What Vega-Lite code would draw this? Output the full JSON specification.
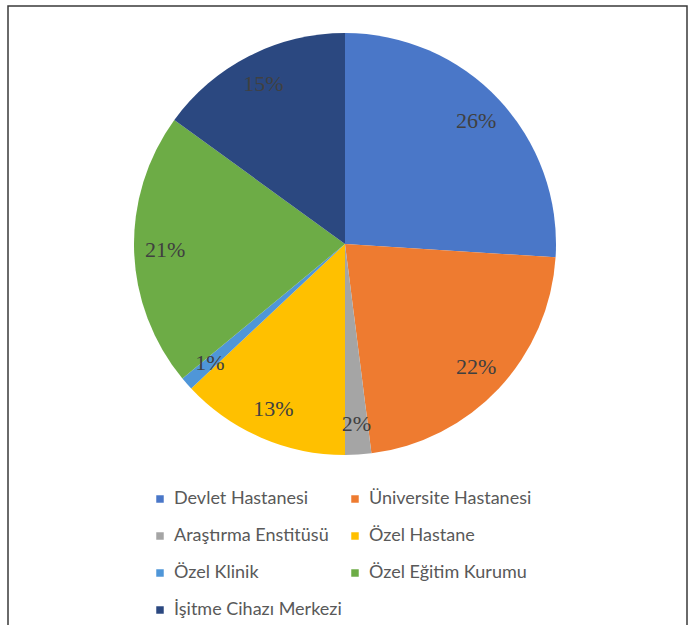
{
  "$schema": "https://vega.github.io/schema/vega-lite/v6.json",
  "width": 679,
  "height": 630,
  "autosize": {"type": "none"},
  "padding": {"left": 8, "top": 6, "right": 7, "bottom": -11},
  "background": "white",
  "view": {"stroke": "#3a3a3a", "strokeWidth": 1.5, "fill": "white"},
  "data": {
    "values": [
      {"o": 1, "kurum": "Devlet Hastanesi", "oran": 0.26},
      {"o": 2, "kurum": "Üniversite Hastanesi", "oran": 0.22},
      {"o": 3, "kurum": "Araştırma Enstitüsü", "oran": 0.02},
      {"o": 4, "kurum": "Özel Hastane", "oran": 0.13},
      {"o": 5, "kurum": "Özel Klinik", "oran": 0.01},
      {"o": 6, "kurum": "Özel Eğitim Kurumu", "oran": 0.21},
      {"o": 7, "kurum": "İşitme Cihazı Merkezi", "oran": 0.15}
    ]
  },
  "encoding": {
    "theta": {"field": "oran", "type": "quantitative", "stack": true},
    "order": {"field": "o", "type": "quantitative"}
  },
  "layer": [
    {
      "mark": {"type": "arc", "outerRadius": 211, "x": {"expr": "width/2 - 2.5"}, "y": {"expr": "238"}},
      "encoding": {
        "color": {
          "field": "kurum",
          "type": "nominal",
          "sort": null,
          "scale": {
            "domain": ["Devlet Hastanesi", "Üniversite Hastanesi", "Araştırma Enstitüsü", "Özel Hastane", "Özel Klinik", "Özel Eğitim Kurumu", "İşitme Cihazı Merkezi"],
            "range": ["#4A77C8", "#EE7B30", "#A5A5A5", "#FFC000", "#4F96D8", "#6DAC46", "#2B4880"]
          },
          "legend": {
            "title": null,
            "orient": "none",
            "direction": "horizontal",
            "legendX": 143,
            "legendY": 484,
            "columns": 2,
            "columnPadding": 4,
            "rowPadding": 19,
            "padding": 0,
            "symbolType": "square",
            "symbolSize": 56,
            "symbolStrokeWidth": 0,
            "labelFont": "Lato",
            "labelFontSize": 18,
            "labelColor": "#595959",
            "labelOffset": 5,
            "labelLimit": 300
          }
        }
      }
    },
    {
      "mark": {"type": "text", "radius": 180, "x": {"expr": "width/2 - 2.5"}, "y": {"expr": "238"}, "font": "Liberation Serif", "fontSize": 22, "fill": "#404040", "baseline": "middle", "align": "center"},
      "encoding": {
        "text": {"field": "oran", "type": "quantitative", "format": ".0%"}
      }
    }
  ]
}
